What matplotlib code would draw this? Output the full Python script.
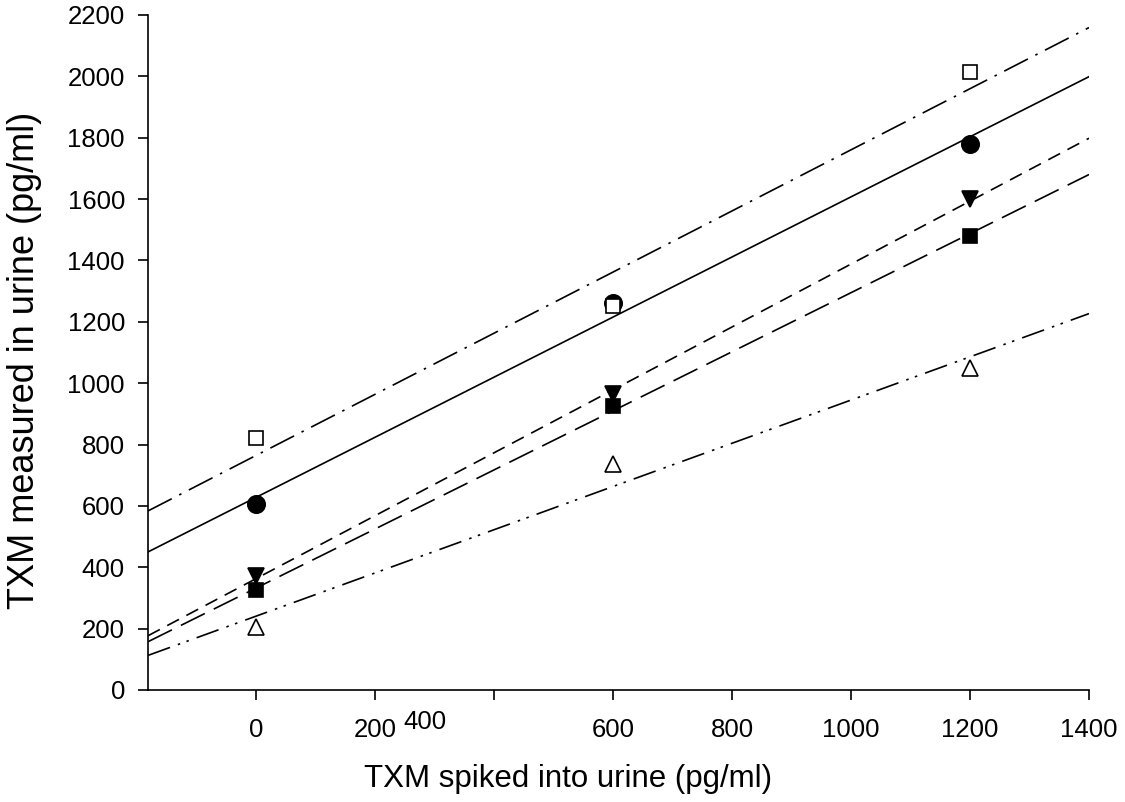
import numpy as np
import matplotlib
matplotlib.use("Agg")
import matplotlib.pyplot as plt

plt.rcParams['font.family'] = ['Liberation Sans', 'DejaVu Sans']

spiked = [0, 600, 1200]
open_square = [820, 1252, 2015]
filled_circle = [605, 1262, 1780]
filled_tri_down = [370, 965, 1600]
filled_square = [325, 925, 1480]
open_tri_up = [205, 735, 1050]

xticks = [0, 200, 400, 600, 800, 1000, 1200, 1400]
xticklabels = ['0', '200', '', '600', '800', '1000', '1200', '1400']
yticks = [0, 200, 400, 600, 800, 1000, 1200, 1400, 1600, 1800, 2000, 2200]

fig = plt.figure(figsize=(11.25, 8.02), dpi=100)
ax = fig.add_axes([0.1316, 0.1397, 0.8364, 0.8416])
xmin, xmax = -182, 1400
ax.set_xlim(xmin, xmax)
ax.set_ylim(0, 2200)

series = [
    (filled_circle, 'o', 'black', '-', 12.5),
    (open_square, 's', 'white', (0, (16, 5, 1.5, 5)), 10.5),
    (filled_tri_down, 'v', 'black', (0, (8, 5)), 11),
    (filled_square, 's', 'black', (0, (16, 6)), 10.5),
    (open_tri_up, '^', 'white', (0, (14, 5, 1.5, 4, 1.5, 5)), 11),
]
xl = np.array([xmin, xmax])
for ys, m, fc, ls, ms in series:
    k, b = np.polyfit(spiked, ys, 1)
    ax.plot(xl, k * xl + b, color='black', lw=1.2, ls=ls, zorder=2)
for ys, m, fc, ls, ms in series:
    ax.plot(spiked, ys, ls='none', marker=m, markersize=ms, markerfacecolor=fc,
            markeredgecolor='black', markeredgewidth=1.2, zorder=3)

ax.spines['top'].set_visible(False)
ax.spines['right'].set_visible(False)
for s in ('left', 'bottom'):
    ax.spines[s].set_linewidth(1.2)
ax.set_xticks(xticks)
ax.set_xticklabels(xticklabels)
ax.set_yticks(yticks)
ax.tick_params(direction='out', length=7.2, width=1.2, labelsize=18.5, pad=9.4)
ax.tick_params(axis='x', pad=13)
ax.text(284, -104, '400', ha='center', va='center', fontsize=18.5)

fig.text(568 / 1125, 1 - 779 / 802, 'TXM spiked into urine (pg/ml)',
         fontsize=22.5, ha='center', va='center')
fig.text(25 / 1125, 1 - 360 / 802, 'TXM measured in urine (pg/ml)',
         fontsize=26, ha='center', va='center', rotation=90)

fig.savefig('out.png', dpi=100)
